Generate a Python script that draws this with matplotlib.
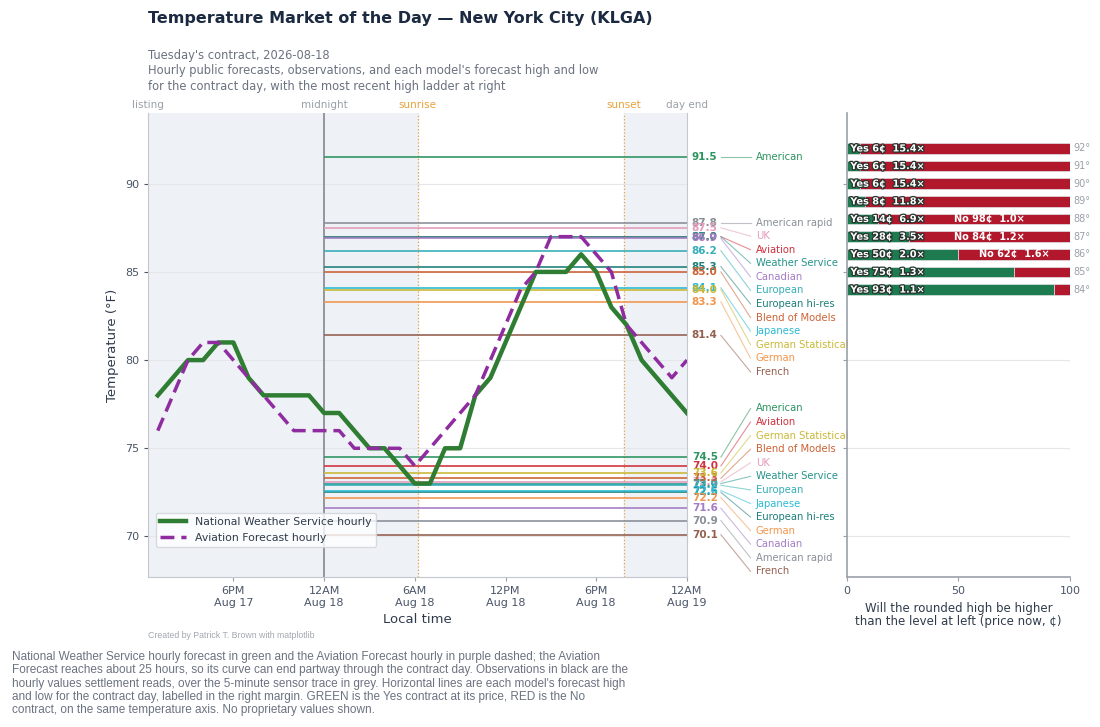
import numpy as np
import matplotlib
matplotlib.use("Agg")
import matplotlib.pyplot as plt
import matplotlib.patheffects as pe
from matplotlib import transforms

# --- data ---
# hours relative to midnight starting the contract day (Aug 18)
hours = np.arange(-11, 25)
nws_hourly = [78, 79, 80, 80, 81, 81, 79, 78, 78, 78, 78, 77, 77, 76, 75, 75, 74, 73,
              73, 75, 75, 78, 79, 81, 83, 85, 85, 85, 86, 85, 83, 82, 80, 79, 78, 77]
aviation_hourly = [76, 78, 80, 81, 81, 80, 79, 78, 77, 76, 76, 76, 76, 75, 75, 75, 75, 74,
                   75, 76, 77, 78, 80, 82, 84, 85, 87, 87, 87, 86, 85, 82, 81, 80, 79, 80]

listing_hour = -11.65
sunrise_hour = 6.2
sunset_hour = 19.85
day_end_hour = 24
event_names = ["listing", "midnight", "sunrise", "sunset", "day end"]
event_hours = [listing_hour, 0, sunrise_hour, sunset_hour, day_end_hour]

tick_hours = [-6, 0, 6, 12, 18, 24]
tick_labels = ["6PM\nAug 17", "12AM\nAug 18", "6AM\nAug 18", "12PM\nAug 18",
               "6PM\nAug 18", "12AM\nAug 19"]

model_names = ["American", "American rapid", "UK", "Aviation", "Weather Service",
               "Canadian", "European", "European hi-res", "Blend of Models",
               "Japanese", "German Statistical", "German", "French"]
model_highs = [91.5, 87.8, 87.5, 87.0, 87.0, 86.9, 86.2, 85.3, 85.0, 84.1, 84.0, 83.3, 81.4]
model_lows = [74.5, 70.9, 73.1, 74.0, 73.0, 71.6, 72.9, 72.5, 73.3, 72.6, 73.6, 72.2, 70.1]
model_colors = ["#2e9460", "#8a8f98", "#e49ab9", "#d0313d", "#24948a", "#a47cc6",
                "#35aeb8", "#1d7f78", "#cc6236", "#2bbad2", "#c9b835", "#f2954c", "#94604f"]

ladder_levels = [92, 91, 90, 89, 88, 87, 86, 85, 84]
yes_price = [6, 6, 6, 8, 14, 28, 50, 75, 93]
yes_payout = [15.4, 15.4, 15.4, 11.8, 6.9, 3.5, 2.0, 1.3, 1.1]
no_price = [None, None, None, None, 98, 84, 62, None, None]
no_payout = [None, None, None, None, 1.0, 1.2, 1.6, None, None]

footer = ("National Weather Service hourly forecast in green and the Aviation Forecast hourly in purple dashed; the Aviation\n"
          "Forecast reaches about 25 hours, so its curve can end partway through the contract day. Observations in black are the\n"
          "hourly values settlement reads, over the 5-minute sensor trace in grey. Horizontal lines are each model's forecast high\n"
          "and low for the contract day, labelled in the right margin. GREEN is the Yes contract at its price, RED is the No\n"
          "contract, on the same temperature axis. No proprietary values shown.")

# --- style ---
dark = "#2f3b4c"
tick_col = "#4a5568"
grey_txt = "#9aa0a8"
sun_col = "#e9a23b"
shade = "#eef1f6"
yes_col = "#1e7b4f"
no_col = "#b2182b"
narrow = ["Liberation Sans", "DejaVu Sans"]
label_gap = 0.77
ylim = (67.7, 94.0)


def spread(vals, gap, centered):
    order = sorted(range(len(vals)), key=lambda i: -vals[i])
    pos = {}
    prev = None
    for i in order:
        p = vals[i] if prev is None else min(vals[i], prev - gap)
        pos[i] = p
        prev = p
    if centered:
        shift = np.mean(vals) - np.mean(list(pos.values()))
        pos = {i: p + shift for i, p in pos.items()}
    return pos


fig = plt.figure(figsize=(11, 7.27), dpi=100)
ax = fig.add_axes([0.1345, 0.2063, 0.49, 0.638])
axl = fig.add_axes([0.77, 0.2063, 0.2027, 0.638])
axl.patch.set_alpha(0)

# --- main panel ---
ax.set_xlim(listing_hour, day_end_hour)
ax.set_ylim(*ylim)
ax.axvspan(listing_hour, sunrise_hour, color=shade, zorder=0)
ax.axvspan(sunset_hour, day_end_hour, color=shade, zorder=0)
ax.axvline(0, color="#8c8f95", lw=1.3, zorder=1)
for h in (sunrise_hour, sunset_hour):
    ax.axvline(h, color=sun_col, lw=0.9, ls=":", zorder=1)

top = ax.get_xaxis_transform()
for name, h in zip(event_names, event_hours):
    c = sun_col if name in ("sunrise", "sunset") else grey_txt
    ax.text(h, 1.006, name, transform=top, ha="center", va="bottom", fontsize=7.5, color=c)

ax.set_yticks([70, 75, 80, 85, 90])
ax.grid(axis="y", color="#e4e6ea", lw=0.8)
ax.set_axisbelow(True)

for hi, lo, c in zip(model_highs, model_lows, model_colors):
    ax.hlines([hi, lo], 0, day_end_hour, color=c, lw=1.3, alpha=0.9, zorder=2)

ax.plot(hours, nws_hourly, color="#2e7d32", lw=3.2, zorder=4,
        label="National Weather Service hourly")
ax.plot(hours, aviation_hourly, color="#8e2ca0", lw=2.5, ls=(0, (4, 2)), zorder=5,
        label="Aviation Forecast hourly")

# right margin labels
tr = transforms.blended_transform_factory(ax.transAxes, ax.transData)
for vals, centered in ((model_highs, False), (model_lows, True)):
    pos = spread(vals, label_gap, centered)
    for i, v in enumerate(vals):
        c = model_colors[i]
        ax.text(1.009, v, f"{v:.1f}", transform=tr, ha="left", va="center",
                fontsize=7.5, fontweight="bold", color=c, clip_on=False)
        ax.plot([1.063, 1.118], [v, pos[i]], transform=tr, color=c, lw=0.8,
                alpha=0.55, clip_on=False)
        ax.text(1.128, pos[i], model_names[i], transform=tr, ha="left", va="center",
                fontsize=7.2, color=c, clip_on=False)

ax.set_xticks(tick_hours)
ax.set_xticklabels(tick_labels)
ax.tick_params(labelsize=8, colors=tick_col, length=3)
ax.tick_params(axis="x", color="#9aa1ab")
ax.set_xlabel("Local time", fontsize=9.5, color=dark)
ax.set_ylabel("Temperature (°F)", fontsize=9.5, color=dark)
ax.spines["top"].set_visible(False)
for s in ("left", "bottom", "right"):
    ax.spines[s].set_color("#c3c8d0")

leg = ax.legend(loc=(0.015, 0.065), fontsize=7.8, frameon=True, handlelength=2.4)
leg.get_frame().set_edgecolor("#cfd3d9")
for t in leg.get_texts():
    t.set_color(dark)

# --- ladder panel ---
axl.set_xlim(0, 100)
axl.set_ylim(*ylim)
axl.set_yticks([70, 75, 80, 85, 90])
axl.set_yticklabels([])
axl.grid(axis="y", color="#e4e6ea", lw=0.8)
axl.set_axisbelow(True)
axl.barh(ladder_levels, yes_price, height=0.6, color=yes_col, edgecolor="#dfe3e8", lw=0.5)
axl.barh(ladder_levels, [100 - p for p in yes_price], left=yes_price, height=0.6,
         color=no_col, edgecolor="#dfe3e8", lw=0.5)
stroke = [pe.withStroke(linewidth=1.8, foreground="#26332d")]
for lvl, yp, ym, np_, nm in zip(ladder_levels, yes_price, yes_payout, no_price, no_payout):
    axl.text(1.5, lvl, f"Yes {yp}¢  {ym:.1f}×", ha="left", va="center", fontsize=7,
             fontweight="bold", color="white", path_effects=stroke)
    if np_ is not None:
        axl.text(max((yp + 100) / 2, 64), lvl, f"No {np_}¢  {nm:.1f}×", ha="center",
                 va="center", fontsize=7, fontweight="bold", color="white")
    axl.text(101.5, lvl, f"{lvl}°", ha="left", va="center", fontsize=7, color=grey_txt,
             clip_on=False)

axl.set_xticks([0, 50, 100])
axl.tick_params(labelsize=8, colors=tick_col, length=3)
axl.tick_params(color="#9aa1ab")
axl.set_xlabel("Will the rounded high be higher\nthan the level at left (price now, ¢)",
               fontsize=8.5, color=dark, linespacing=1.05)
axl.spines["top"].set_visible(False)
axl.spines["right"].set_visible(False)
for s in ("left", "bottom"):
    axl.spines[s].set_color("#9aa1ab")
    axl.spines[s].set_linewidth(1.2)

# --- titles and notes ---
fig.text(0.1345, 1 - 19 / 727, "Temperature Market of the Day — New York City (KLGA)",
         fontsize=11.5, fontweight="bold", color="#1b2a41", va="center")
fig.text(0.1345, 1 - 55 / 727, "Tuesday's contract, 2026-08-18", fontsize=8.3,
         color="#6b7280", va="center")
fig.text(0.1345, 1 - 64 / 727,
         "Hourly public forecasts, observations, and each model's forecast high and low\n"
         "for the contract day, with the most recent high ladder at right",
         fontsize=8.3, color="#6b7280", va="top", linespacing=1.3)
fig.text(0.1345, 1 - 636 / 727, "Created by Patrick T. Brown with matplotlib",
         fontsize=6.3, color="#a3a8b0", va="center", family=narrow)
fig.text(0.011, 1 - 651 / 727, footer, fontsize=8.5, color="#6b7280", va="top",
         linespacing=1.14, family=narrow)

fig.savefig("out.png", dpi=100)
plt.close(fig)
